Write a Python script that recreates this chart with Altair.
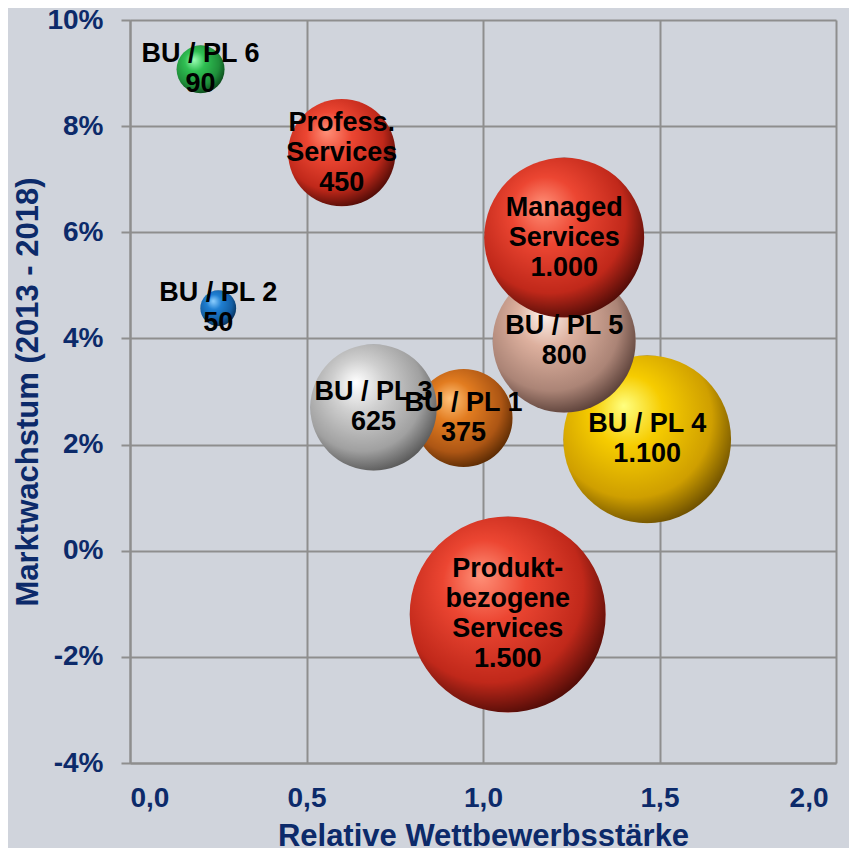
import altair as alt
import pandas as pd

# ---- data ----
names = ["Produkt-\nbezogene\nServices", "BU / PL 4", "BU / PL 5", "Managed\nServices",
         "BU / PL 1", "BU / PL 3", "Profess.\nServices", "BU / PL 2", "BU / PL 6"]
strength = [1.07, 1.465, 1.23, 1.23, 0.945, 0.69, 0.60, 0.25, 0.20]   # Relative Wettbewerbsstärke
growth = [-1.2, 2.1, 3.95, 5.9, 2.5, 2.7, 7.5, 4.57, 9.07]            # Marktwachstum in %
volume = [1500, 1100, 800, 1000, 375, 625, 450, 50, 90]
# sphere colours: highlight, base, mid-shadow, shadow
colors = [
    ("#ff9078", "#ec4632", "#c0281a", "#3a0603"),
    ("#ffff80", "#f6cc00", "#cf9f00", "#5a4000"),
    ("#fff4ee", "#ddb09e", "#ab8476", "#4a322c"),
    ("#ff9078", "#ec4632", "#c0281a", "#3a0603"),
    ("#ffc27a", "#e27c20", "#ad5614", "#4a2200"),
    ("#ffffff", "#cfcfcf", "#a0a0a0", "#4a4a4a"),
    ("#ff9078", "#ec4632", "#c0281a", "#3a0603"),
    ("#8fd0ff", "#1f7fd2", "#135ea4", "#06284a"),
    ("#9dffb5", "#2fbf52", "#1f8e3a", "#083a14"),
]

x_ticks = [0, 0.5, 1.0, 1.5, 2.0]
y_ticks = [-4, -2, 0, 2, 4, 6, 8, 10]


def de_num(v):
    return f"{v:,}".replace(",", ".")


labels = [f"{n}\n{de_num(v)}" for n, v in zip(names, volume)]
df = pd.DataFrame({
    "order": list(range(len(names))),
    "x": strength,
    "y": growth,
    "v": volume,
    "label": labels,
    "lines": [lab.count("\n") + 1 for lab in labels],
})

NAVY = "#0c2a6a"
GRID = "#8e8e8e"
BG = "#d0d4dc"
LINE_H = 30

xscale = alt.Scale(domain=[0, 2], nice=False, zero=False)
yscale = alt.Scale(domain=[-4, 10], nice=False, zero=False)
sscale = alt.Scale(domain=[0, 1500], range=[0, 38400])

xaxis = alt.Axis(values=x_ticks, labelExpr="replace(format(datum.value, '.1f'), '.', ',')",
                 title="Relative Wettbewerbsstärke", ticks=False, tickSize=0, labelPadding=21,
                 labelOffset={"condition": {"test": "datum.value == 2", "value": -8}, "value": 0},
                 titleBaseline="alphabetic", titleY=82)
yaxis = alt.Axis(values=y_ticks, labelExpr="datum.value + '%'",
                 title="Marktwachstum (2013 - 2018)", tickSize=9, labelPadding=18,
                 titleBaseline="alphabetic", titleX=-93)

X = alt.X("x:Q", scale=xscale, axis=xaxis, title="Relative Wettbewerbsstärke")
Y = alt.Y("y:Q", scale=yscale, axis=yaxis, title="Marktwachstum (2013 - 2018)")

layers = []
for i, (hi, base, mid, dark) in enumerate(colors):
    grad = alt.RadialGradient(
        gradient="radial", x1=0.36, y1=0.3, r1=0.0, x2=0.43, y2=0.4, r2=0.66,
        stops=[alt.GradientStop(offset=0.0, color=hi),
               alt.GradientStop(offset=0.32, color=base),
               alt.GradientStop(offset=0.72, color=mid),
               alt.GradientStop(offset=1.0, color=dark)])
    layers.append(
        alt.Chart(df).transform_filter(f"datum.order == {i}")
        .mark_circle(fill=grad, opacity=1, fillOpacity=1, strokeWidth=0)
        .encode(x=X, y=Y, size=alt.Size("v:Q", scale=sscale, legend=None))
    )

# labels drawn on top, centred vertically on the bubble centre
for n in sorted(set(df["lines"])):
    layers.append(
        alt.Chart(df).transform_filter(f"datum.lines == {n}").mark_text(
            font="Liberation Sans", fontWeight="bold", fontSize=27, lineHeight=LINE_H,
            lineBreak="\n", color="black", align="center", baseline="middle",
            dy=-(n - 1) * LINE_H / 2,
        ).encode(x=X, y=Y, text="label:N")
    )

chart = alt.layer(*layers).properties(
    width=706, height=743,
    autosize=alt.AutoSizeParams(type="none"),
    padding={"left": 122, "top": 12, "right": 13, "bottom": 85},
    background=BG,
).configure_view(
    fill=BG, stroke=None
).configure_axis(
    labelFont="Liberation Sans", labelFontWeight="bold", labelFontSize=28, labelColor=NAVY,
    titleFont="Liberation Sans", titleFontWeight="bold", titleFontSize=31, titleColor=NAVY,
    gridColor=GRID, gridWidth=2, gridOpacity=1,
    domainColor=GRID, domainWidth=2, tickColor=GRID, tickWidth=2,
)

chart.save("out.html", embed_options={"renderer": "svg", "actions": False})
